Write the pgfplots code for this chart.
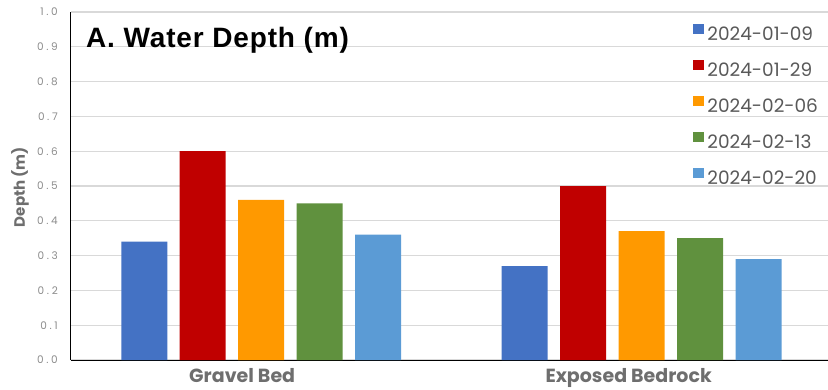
\documentclass[border=0pt]{standalone}
\usepackage{pgfplots}
\pgfplotsset{compat=1.18}
\usepackage{fontspec}
\setmainfont{Liberation Sans}
\newfontfamily\popfont{Poppins}
\newfontfamily\tickfont[LetterSpace=25]{Poppins}
\newfontfamily\titlefont[LetterSpace=3]{Liberation Sans}

\definecolor{cA}{RGB}{68,114,196}
\definecolor{cB}{RGB}{192,0,0}
\definecolor{cC}{RGB}{255,153,0}
\definecolor{cD}{RGB}{96,145,62}
\definecolor{cE}{RGB}{91,155,213}
\definecolor{gridgray}{RGB}{217,217,217}
\definecolor{labgray}{RGB}{110,110,110}
\definecolor{tickgray}{RGB}{140,140,140}
\definecolor{leggray}{RGB}{89,89,89}

\begin{document}
\begin{tikzpicture}
\begin{axis}[
  at={(0,0)}, anchor=south west,
  scale only axis, width=757pt, height=348pt,
  xmin=-0.5, xmax=1.49, ymin=0, ymax=1,
  axis lines*=left,
  axis line style={black, line width=1pt},
  xtick={-0.05,0.966}, xticklabels={Gravel Bed, Exposed Bedrock},
  ytick={0,0.1,0.2,0.3,0.4,0.5,0.6,0.7,0.8,0.9,1.0},
  major tick length=0pt,
  ymajorgrids, grid style={gridgray, line width=1.2pt},
  /pgf/number format/assume math mode=true,
  /pgf/number format/fixed, /pgf/number format/fixed zerofill,
  /pgf/number format/precision=1,
  yticklabel style={font=\fontsize{10.5}{12}\selectfont\tickfont, text=tickgray,
    anchor=east, inner sep=0pt, xshift=-13pt},
  xticklabel style={font=\fontsize{19}{22}\selectfont\popfont\bfseries, text=labgray,
    anchor=base, inner sep=0pt, yshift=-22pt},
  ylabel={Depth (m)},
  ylabel style={font=\fontsize{15}{18}\selectfont\popfont\bfseries, text=labgray,
    at={(axis description cs:-0.0674,0.497)}, anchor=center},
  ybar, bar width=0.121,
  legend cell align=left,
  legend image code/.code={\fill[#1] (0pt,0pt) rectangle (10.5pt,10.5pt);},
  legend style={at={(rel axis cs:0.818,0.973)}, anchor=north west,
    draw=none, fill=none, font=\fontsize{18.5}{21}\selectfont\popfont,
    text=leggray, row sep=18pt,
    nodes={inner xsep=3.5pt, inner ysep=0pt}},
]
\addplot[fill=cA, draw=none, bar shift=-0.3074] coordinates {(0,0.34) (1,0.27)};
\addplot[fill=cB, draw=none, bar shift=-0.1537] coordinates {(0,0.60) (1,0.50)};
\addplot[fill=cC, draw=none, bar shift=0] coordinates {(0,0.46) (1,0.37)};
\addplot[fill=cD, draw=none, bar shift=0.1537] coordinates {(0,0.45) (1,0.35)};
\addplot[fill=cE, draw=none, bar shift=0.3074] coordinates {(0,0.36) (1,0.29)};
\legend{2024-01-09, 2024-01-29, 2024-02-06, 2024-02-13, 2024-02-20}
\node[anchor=base west, inner sep=0pt, font=\fontsize{28}{33}\selectfont\titlefont\bfseries]
  at (rel axis cs:0.0198,0.8966) {A. Water Depth (m)};
\end{axis}
\pgfresetboundingbox
\path (-71pt,-29pt) rectangle (757pt,360pt);
\end{tikzpicture}
\end{document}
